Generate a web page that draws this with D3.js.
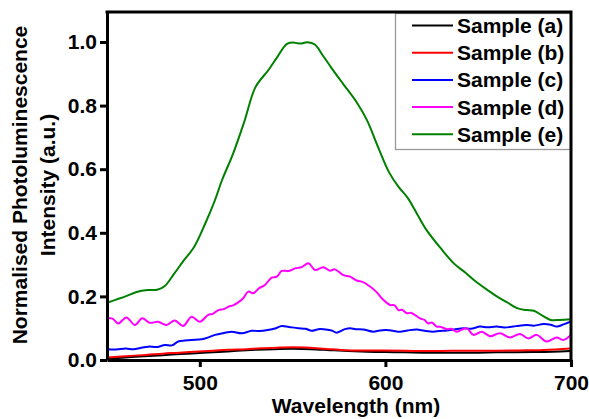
<!DOCTYPE html>
<html>
<head>
<meta charset="utf-8">
<script src="https://cdn.jsdelivr.net/npm/d3@7"></script>
<style>
  html, body { margin: 0; padding: 0; background: #fff; }
  svg { display: block; }
  text { font-family: "Liberation Sans", Arial, sans-serif; font-weight: bold; fill: #000; }
</style>
</head>
<body>
<svg id="chart" width="589" height="419"></svg>
<script>
// Photoluminescence spectra, normalised to the strongest emission (sample e)
const sampleNames = ["Sample (a)", "Sample (b)", "Sample (c)", "Sample (d)", "Sample (e)"];
const sampleColors = ["#000000", "#ff0000", "#0000ff", "#ff00ff", "#008000"];

const wlA = [450, 460, 470, 480, 490, 500, 510, 520, 530, 540, 550, 560, 570, 580, 590, 600, 610, 620, 630, 640, 650, 660, 670, 680, 690, 700];
const intA = [0.004, 0.008, 0.012, 0.015, 0.019, 0.022, 0.025, 0.029, 0.032, 0.034, 0.035, 0.034, 0.031, 0.028, 0.026, 0.025, 0.024, 0.023, 0.023, 0.023, 0.023, 0.024, 0.024, 0.025, 0.026, 0.028];

const wlB = [450, 460, 471, 480, 489, 497, 507, 515, 525, 533, 543, 550, 557, 563, 570, 575, 582, 592, 600, 611, 625, 635, 647, 660, 672, 683, 692, 700];
const intB = [0.008, 0.012, 0.016, 0.020, 0.023, 0.026, 0.029, 0.032, 0.034, 0.037, 0.039, 0.040, 0.039, 0.037, 0.034, 0.032, 0.030, 0.030, 0.030, 0.029, 0.028, 0.029, 0.029, 0.029, 0.030, 0.031, 0.033, 0.036];

const wlC = [450, 455, 460, 464.4, 468, 472.3, 477, 481.2, 485, 488.4, 492, 495.6, 501, 505, 508.2, 513, 517.2, 522.6, 528, 532, 536.6, 541, 544.1, 548, 553.1, 557, 560.3, 564, 567.5, 571, 573.8, 578.2, 581, 584, 588.1, 593.5, 597, 600.7, 604, 607.9, 612, 616.9, 621, 625.8, 629, 633, 637, 642, 646, 651, 655, 660, 664, 668.9, 672, 676.1, 680, 685.1, 689, 692.3, 696, 700];
const intC = [0.034, 0.033, 0.036, 0.034, 0.038, 0.042, 0.041, 0.047, 0.046, 0.058, 0.061, 0.063, 0.065, 0.072, 0.079, 0.085, 0.089, 0.084, 0.092, 0.091, 0.094, 0.100, 0.107, 0.104, 0.100, 0.098, 0.092, 0.097, 0.096, 0.093, 0.086, 0.097, 0.100, 0.097, 0.096, 0.089, 0.093, 0.094, 0.092, 0.089, 0.093, 0.096, 0.092, 0.089, 0.091, 0.093, 0.096, 0.100, 0.098, 0.105, 0.103, 0.105, 0.102, 0.105, 0.108, 0.110, 0.108, 0.113, 0.111, 0.105, 0.112, 0.121];

const wlD = [450, 453, 456, 460.5, 465, 469, 473, 477.5, 482, 486.5, 491, 495.6, 500, 504.5, 507, 510, 513, 515.5, 518, 520.7, 523.5, 526.1, 528.8, 532, 535.1, 538.7, 541.5, 544.1, 548, 551.3, 554.9, 558.5, 562.1, 566.5, 570.1, 572.8, 577.3, 581, 584.5, 588, 591.7, 595, 598.9, 602.5, 605, 607, 609, 611.5, 614, 618.6, 621, 623.1, 625, 627.6, 630, 633, 635.5, 638.4, 643.8, 647.4, 651.9, 656.4, 661.7, 667.1, 672.5, 677, 681.5, 686.9, 692.3, 695.8, 700];
const intD = [0.132, 0.130, 0.115, 0.134, 0.110, 0.131, 0.117, 0.120, 0.110, 0.124, 0.107, 0.136, 0.120, 0.142, 0.145, 0.157, 0.160, 0.168, 0.172, 0.181, 0.195, 0.215, 0.210, 0.226, 0.236, 0.259, 0.262, 0.280, 0.280, 0.288, 0.292, 0.304, 0.283, 0.292, 0.281, 0.285, 0.267, 0.262, 0.250, 0.245, 0.231, 0.215, 0.189, 0.173, 0.172, 0.157, 0.158, 0.147, 0.148, 0.131, 0.126, 0.115, 0.118, 0.105, 0.104, 0.097, 0.098, 0.089, 0.100, 0.079, 0.089, 0.075, 0.084, 0.071, 0.082, 0.068, 0.079, 0.058, 0.071, 0.063, 0.079];

const wlE = [450, 455, 460, 466, 472, 477, 481, 486, 491, 497, 503, 508, 512, 518, 524, 530, 537, 542, 547, 551, 554, 558, 562, 566, 571, 577, 584, 590, 596, 602, 607, 612, 617, 622, 630, 637, 643, 648, 655, 660, 666, 671, 676, 680, 685, 689, 694, 700];
const intE = [0.180, 0.190, 0.200, 0.214, 0.220, 0.221, 0.232, 0.270, 0.310, 0.356, 0.430, 0.500, 0.566, 0.650, 0.750, 0.858, 0.912, 0.955, 0.994, 0.998, 0.995, 0.999, 0.992, 0.960, 0.918, 0.870, 0.815, 0.755, 0.670, 0.590, 0.545, 0.510, 0.460, 0.410, 0.350, 0.303, 0.275, 0.250, 0.220, 0.200, 0.180, 0.163, 0.157, 0.155, 0.138, 0.126, 0.126, 0.128];

const wavelengths = [wlA, wlB, wlC, wlD, wlE];
const intensities = [intA, intB, intC, intD, intE];

const xTicks = [500, 600, 700];
const yTicks = [0, 0.2, 0.4, 0.6, 0.8, 1.0];

const svg = d3.select("#chart");
const plot = { left: 107, right: 571, top: 12, bottom: 360 };

const x = d3.scaleLinear().domain([450, 700]).range([plot.left, plot.right]);
const y = d3.scaleLinear().domain([0, 1.0943]).range([plot.bottom, plot.top]);

// Spectra, drawn in sample order so later samples sit on top
const line = d3.line()
  .x(d => x(d[0]))
  .y(d => y(d[1]))
  .curve(d3.curveCatmullRom.alpha(0.5));

const series = sampleNames.map((name, i) => ({
  name,
  color: sampleColors[i],
  points: wavelengths[i].map((w, j) => [w, intensities[i][j]])
}));

svg.append("defs").append("clipPath").attr("id", "plotClip")
  .append("rect")
  .attr("x", plot.left).attr("y", plot.top)
  .attr("width", plot.right - plot.left).attr("height", plot.bottom - plot.top);

svg.append("g").attr("clip-path", "url(#plotClip)")
  .selectAll("path")
  .data(series)
  .join("path")
  .attr("fill", "none")
  .attr("stroke", d => d.color)
  .attr("stroke-width", 2)
  .attr("stroke-linejoin", "round")
  .attr("d", d => line(d.points));

// Legend
const legend = svg.append("g");
legend.append("rect")
  .attr("x", 395.5).attr("y", 13.5)
  .attr("width", 175).attr("height", 136)
  .attr("fill", "#fff")
  .attr("stroke", "#9a9a9a")
  .attr("stroke-width", 1.3);

const rowY = i => 25.5 + i * 27.2;
legend.selectAll("line.key")
  .data(series)
  .join("line")
  .attr("class", "key")
  .attr("x1", 412).attr("x2", 453)
  .attr("y1", (d, i) => rowY(i)).attr("y2", (d, i) => rowY(i))
  .attr("stroke", d => d.color)
  .attr("stroke-width", 2);
legend.selectAll("text.key")
  .data(series)
  .join("text")
  .attr("class", "key")
  .attr("x", 457)
  .attr("y", (d, i) => rowY(i) + 7.5)
  .attr("font-size", 21)
  .text(d => d.name);

// Axes
const xAxis = svg.append("g")
  .attr("transform", `translate(0,${plot.bottom})`)
  .call(d3.axisBottom(x).tickValues(xTicks).tickSize(7).tickSizeOuter(0).tickPadding(5));
const yAxis = svg.append("g")
  .attr("transform", `translate(${plot.left},0)`)
  .call(d3.axisLeft(y).tickValues(yTicks).tickFormat(d3.format(".1f")).tickSize(7).tickSizeOuter(0).tickPadding(3));

[xAxis, yAxis].forEach(g => {
  g.selectAll("path.domain").attr("stroke", "#000").attr("stroke-width", 3);
  g.selectAll(".tick line").attr("stroke", "#000").attr("stroke-width", 3);
  g.selectAll(".tick text")
    .attr("font-size", 21)
    .attr("font-family", "'Liberation Sans', Arial, sans-serif")
    .attr("font-weight", "bold")
    .attr("fill", "#000");
});
xAxis.selectAll(".tick text").attr("dy", "0.85em");

// Top and right frame lines
svg.append("path")
  .attr("d", `M${plot.left},${plot.top}H${plot.right}V${plot.bottom}`)
  .attr("fill", "none")
  .attr("stroke", "#000")
  .attr("stroke-width", 3)
  .attr("stroke-linecap", "square");

// Axis titles
svg.append("text")
  .attr("x", 356).attr("y", 412.5)
  .attr("text-anchor", "middle")
  .attr("font-size", 21)
  .text("Wavelength (nm)");

const yTitle = svg.append("text")
  .attr("transform", "translate(0,185) rotate(-90)")
  .attr("text-anchor", "middle")
  .attr("font-size", 21);
yTitle.append("tspan").attr("x", 0).attr("y", 27).text("Normalised Photoluminescence");
yTitle.append("tspan").attr("x", 0).attr("y", 55).text("Intensity (a.u.)");
</script>
</body>
</html>
